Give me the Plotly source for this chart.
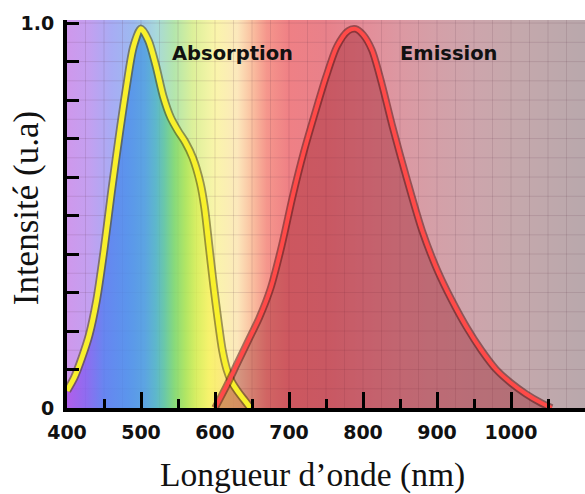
import base64
import plotly.graph_objects as go

# ---------------- data ----------------
abs_nm = [400, 410, 420, 430, 440, 450, 460, 470, 480, 490, 500, 510, 520, 530, 540,
          550, 560, 570, 580, 586, 592, 598, 604, 610, 616, 622, 632, 640, 648]
abs_val = [0.045, 0.08, 0.13, 0.19, 0.28, 0.41, 0.56, 0.70, 0.83, 0.94, 0.985, 0.955, 0.89, 0.81, 0.755,
           0.72, 0.69, 0.65, 0.585, 0.52, 0.42, 0.32, 0.23, 0.15, 0.10, 0.07, 0.04, 0.02, 0.0]

em_nm = [600, 615, 630, 645, 660, 675, 690, 705, 720, 735, 750, 765, 780, 790,
         800, 812, 825, 840, 860, 880, 900, 920, 940, 960, 980, 1000, 1020, 1040, 1055]
em_val = [0.0, 0.055, 0.115, 0.175, 0.235, 0.31, 0.42, 0.55, 0.665, 0.765, 0.86, 0.94, 0.98, 0.985,
          0.97, 0.93, 0.845, 0.73, 0.59, 0.46, 0.36, 0.28, 0.21, 0.15, 0.10, 0.065, 0.037, 0.014, 0.0]

x_tick_vals = [400, 500, 600, 700, 800, 900, 1000]
x_tick_text = ["400", "500", "600", "700", "800", "900", "1000"]
y_tick_vals = [0, 1.0]
y_tick_text = ["0", "1.0"]

labels = ["Absorption", "Emission"]
label_nm = [624, 916]
label_val = [0.922, 0.922]

# spectrum background (pastel) stops
bg_nm = [400, 430, 460, 490, 520, 545, 570, 600, 630, 650, 670, 700, 750, 800, 850, 900, 950, 1000, 1100]
bg_col = ["#cf98ec", "#c3a0f0", "#a8acf4", "#9cbaf0", "#a8d8dc", "#b4e6ac", "#dcf09a", "#faf5aa",
          "#fce8bc", "#fac0a0", "#f5968c", "#ef8085", "#e8818a", "#e48d98", "#dc98a2", "#d4a0a8",
          "#cda5ac", "#c6a8ac", "#b9a8ac"]

# saturated colours inside the absorption band
ab_nm = [400, 425, 450, 480, 505, 520, 532, 545, 560, 575, 592, 615, 650]
ab_col = ["rgba(170,80,235,0.8)", "rgba(130,95,240,0.8)", "rgba(85,125,240,0.8)", "rgba(75,140,235,0.8)",
          "rgba(75,155,225,0.8)", "rgba(75,175,200,0.8)", "rgba(90,195,160,0.8)", "rgba(125,215,110,0.8)",
          "rgba(170,228,85,0.8)", "rgba(215,238,85,0.8)", "rgba(248,242,95,0.8)", "rgba(252,228,120,0.8)",
          "rgba(250,205,125,0.8)"]

X0, X1 = 400, 1100
Y0, Y1 = 0, 1.008

# ---------------- background image (svg gradient) ----------------
stops = "".join(
    f"<stop offset='{(n - X0) / (X1 - X0):.4f}' stop-color='{c}'/>" for n, c in zip(bg_nm, bg_col)
)
svg = (
    "<svg xmlns='http://www.w3.org/2000/svg' width='700' height='100' viewBox='0 0 700 100' "
    "preserveAspectRatio='none'><defs><linearGradient id='g' x1='0' x2='1' y1='0' y2='0'>"
    + stops
    + "</linearGradient></defs><rect width='700' height='100' fill='url(#g)'/></svg>"
)
src = "data:image/svg+xml;base64," + base64.b64encode(svg.encode()).decode()

fig = go.Figure()

fig.add_trace(go.Scatter(
    x=abs_nm, y=abs_val, mode="none", fill="tozeroy", line=dict(shape="spline", smoothing=0.8),
    fillgradient=dict(type="horizontal", start=ab_nm[0], stop=ab_nm[-1],
                      colorscale=[[(n - ab_nm[0]) / (ab_nm[-1] - ab_nm[0]), c] for n, c in zip(ab_nm, ab_col)]),
    hoverinfo="skip", showlegend=False))

fig.add_trace(go.Scatter(
    x=em_nm, y=em_val, mode="none", fill="tozeroy", line=dict(shape="spline", smoothing=0.8),
    fillcolor="rgba(150,20,35,0.38)", hoverinfo="skip", showlegend=False))

fig.add_trace(go.Scatter(x=abs_nm, y=abs_val, mode="lines",
                         line=dict(color="rgba(80,70,10,0.55)", width=8.5, shape="spline", smoothing=0.8),
                         hoverinfo="skip", showlegend=False))
fig.add_trace(go.Scatter(x=abs_nm, y=abs_val, mode="lines",
                         line=dict(color="#f8f02c", width=5, shape="spline", smoothing=0.8),
                         name="Absorption", showlegend=False))
fig.add_trace(go.Scatter(x=em_nm, y=em_val, mode="lines",
                         line=dict(color="rgba(90,20,20,0.55)", width=7.5, shape="spline", smoothing=0.8),
                         hoverinfo="skip", showlegend=False))
fig.add_trace(go.Scatter(x=em_nm, y=em_val, mode="lines",
                         line=dict(color="#ff4a48", width=4, shape="spline", smoothing=0.8),
                         name="Emission", showlegend=False))

# grid as shapes (between background image and traces)
shapes = []
g = X0 + 25
while g < X1:
    shapes.append(dict(type="line", xref="x", yref="y", x0=g, x1=g, y0=Y0, y1=Y1, layer="between",
                       line=dict(color="rgba(90,50,70,0.14)", width=1)))
    g += 25
k = 1
while k * 0.05 < Y1:
    yy = k * 0.05
    shapes.append(dict(type="line", xref="x", yref="y", x0=X0, x1=X1, y0=yy, y1=yy, layer="between",
                       line=dict(color="rgba(90,50,70,0.14)", width=1)))
    k += 1

annotations = []
for t, xn, yv in zip(labels, label_nm, label_val):
    annotations.append(dict(x=xn, y=yv, xref="x", yref="y", text=t, showarrow=False,
                            font=dict(family="DejaVu Sans", size=19.5, color="#111111", weight="bold")))
annotations.append(dict(x=0.473, y=-0.172, xref="paper", yref="paper", text="Longueur d’onde (nm)",
                        showarrow=False, xanchor="center", yanchor="middle",
                        font=dict(family="Liberation Serif", size=33.5, color="#111111")))
annotations.append(dict(x=-0.079, y=0.515, xref="paper", yref="paper", text="Intensité (u.a)",
                        showarrow=False, xanchor="center", yanchor="middle", textangle=-90,
                        font=dict(family="Liberation Serif", size=35, color="#111111")))

fig.update_layout(
    width=585, height=494,
    margin=dict(l=67, r=0, t=20, b=86),
    paper_bgcolor="white", plot_bgcolor="rgba(0,0,0,0)",
    images=[dict(source=src, xref="x", yref="y", x=X0, y=Y1, sizex=X1 - X0, sizey=Y1 - Y0,
                 sizing="stretch", layer="below", xanchor="left", yanchor="top")],
    shapes=shapes,
    annotations=annotations,
    xaxis=dict(range=[X0, X1], showgrid=False, zeroline=False,
               showline=True, linecolor="black", linewidth=4, mirror=False,
               tickmode="array", tickvals=x_tick_vals, ticktext=x_tick_text,
               ticks="inside", ticklen=16, tickwidth=3, tickcolor="black", ticklabelstandoff=4,
               minor=dict(dtick=50, tick0=400, ticks="inside", ticklen=9, tickwidth=3,
                          tickcolor="black", showgrid=False),
               tickfont=dict(family="DejaVu Sans", size=19, color="#111111", weight="bold")),
    yaxis=dict(range=[Y0, Y1], showgrid=False, zeroline=False,
               showline=True, linecolor="black", linewidth=4, mirror=False,
               tickmode="array", tickvals=y_tick_vals, ticktext=y_tick_text,
               ticks="inside", ticklen=12, tickwidth=3, tickcolor="black", ticklabelstandoff=5,
               minor=dict(dtick=0.1, tick0=0, ticks="inside", ticklen=12, tickwidth=3,
                          tickcolor="black", showgrid=False),
               tickfont=dict(family="DejaVu Sans", size=19, color="#111111", weight="bold")),
)

fig.write_html("out.html")
